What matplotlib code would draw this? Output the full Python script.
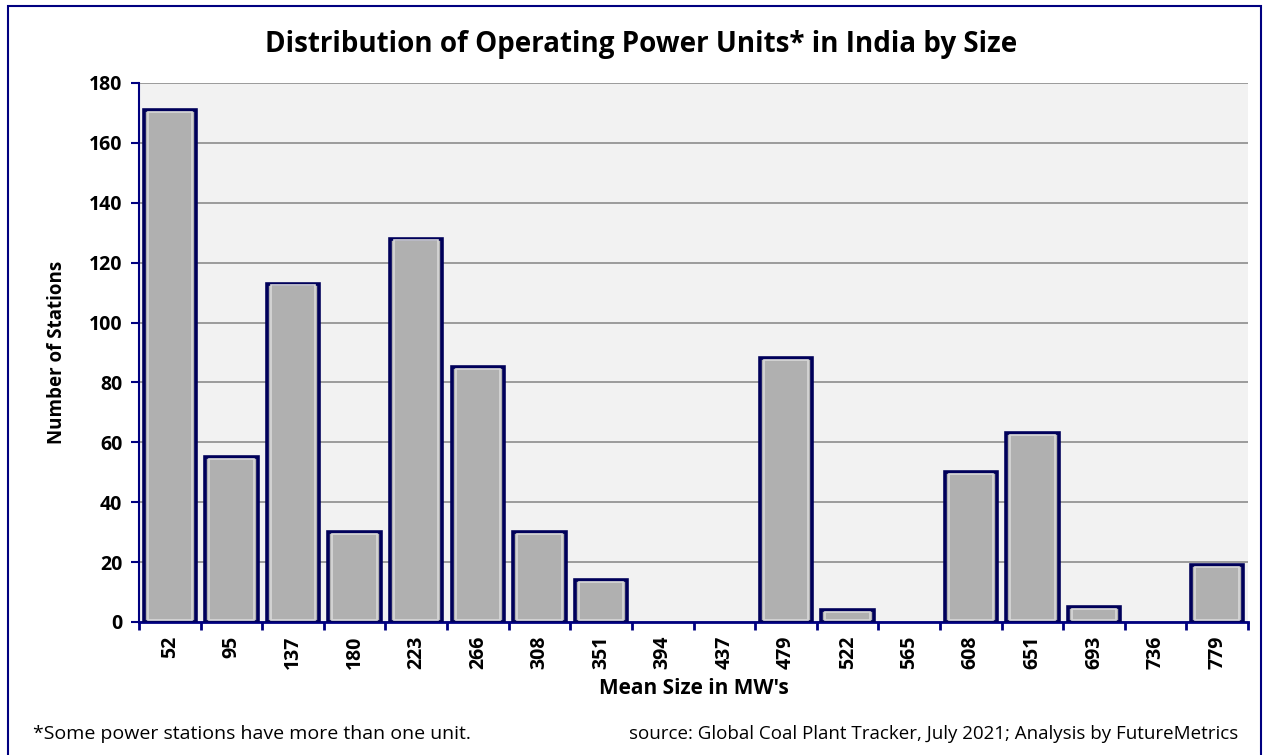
#!/usr/bin/env python3
"""Distribution of operating power units in India by size."""

import numpy as np
import matplotlib.pyplot as plt
from matplotlib.patches import Rectangle

sizes = ["52", "95", "137", "180", "223", "266", "308", "351", "394",
         "437", "479", "522", "565", "608", "651", "693", "736", "779"]
stations = [171, 55, 113, 30, 128, 85, 30, 14, 0,
            0, 88, 4, 0, 50, 63, 5, 0, 19]
yticks = [0, 20, 40, 60, 80, 100, 120, 140, 160, 180]

NAVY = '#000080'
FONT = 'Open Sans'


def main():
    plt.rcParams['font.family'] = [FONT, 'DejaVu Sans']
    fig = plt.figure(figsize=(12.65, 7.55), dpi=100)
    fig.patches.append(Rectangle((0.0065, -0.01), 0.99, 1.002,
                                 transform=fig.transFigure, fill=False,
                                 edgecolor=NAVY, linewidth=1.5))

    ax = fig.add_axes([0.1099, 0.1762, 0.8767, 0.7139])
    ax.set_facecolor('#f2f2f2')
    x = np.arange(len(sizes))
    vals = np.array(stations)
    nz = vals > 0
    # main bars
    ax.bar(x[nz], vals[nz], width=0.85, color='#b0b0b0', edgecolor='#00005a',
           linewidth=2.6, zorder=3)
    # bevel: light inner frame
    ax.bar(x[nz], vals[nz] - 1.2, bottom=0.6, width=0.72, fill=False,
           edgecolor='#d8d8d8', linewidth=1.2, zorder=4)

    ax.set_xlim(-0.5, len(sizes) - 0.5)
    ax.set_ylim(0, 180)
    ax.set_yticks(yticks)
    ax.set_yticklabels([str(v) for v in yticks], fontsize=14,
                       fontweight='bold')
    ax.yaxis.grid(True, color='#8c8c8c', linewidth=1.2, zorder=0)
    ax.set_axisbelow(True)

    ax.set_xticks(x)
    ax.set_xticklabels(sizes, rotation=90, fontsize=14, fontweight='bold')
    ax.set_xticks(np.arange(len(sizes) + 1) - 0.5, minor=True)
    ax.tick_params(axis='x', which='major', length=0, pad=10)
    ax.tick_params(axis='x', which='minor', length=6, color=NAVY, width=2)
    ax.tick_params(axis='y', length=6, color=NAVY, width=1.5, pad=6)

    for s in ['top', 'right']:
        ax.spines[s].set_visible(False)
    ax.spines['left'].set_color(NAVY)
    ax.spines['left'].set_linewidth(1.5)
    ax.spines['bottom'].set_color(NAVY)
    ax.spines['bottom'].set_linewidth(2)

    ax.set_ylabel('Number of Stations', fontsize=13.5, fontweight='bold',
                  labelpad=16)
    ax.set_xlabel("Mean Size in MW's", fontsize=15, fontweight='bold',
                  labelpad=6)

    fig.text(0.507, 0.941, 'Distribution of Operating Power Units* in India by Size',
             ha='center', va='center', fontsize=20, fontweight='bold')
    fig.text(0.026, 0.028, '*Some power stations have more than one unit.',
             ha='left', va='center', fontsize=14)
    fig.text(0.979, 0.028,
             'source: Global Coal Plant Tracker, July 2021; Analysis by FutureMetrics',
             ha='right', va='center', fontsize=13.5)

    fig.savefig('out.png', dpi=100)


if __name__ == '__main__':
    main()
